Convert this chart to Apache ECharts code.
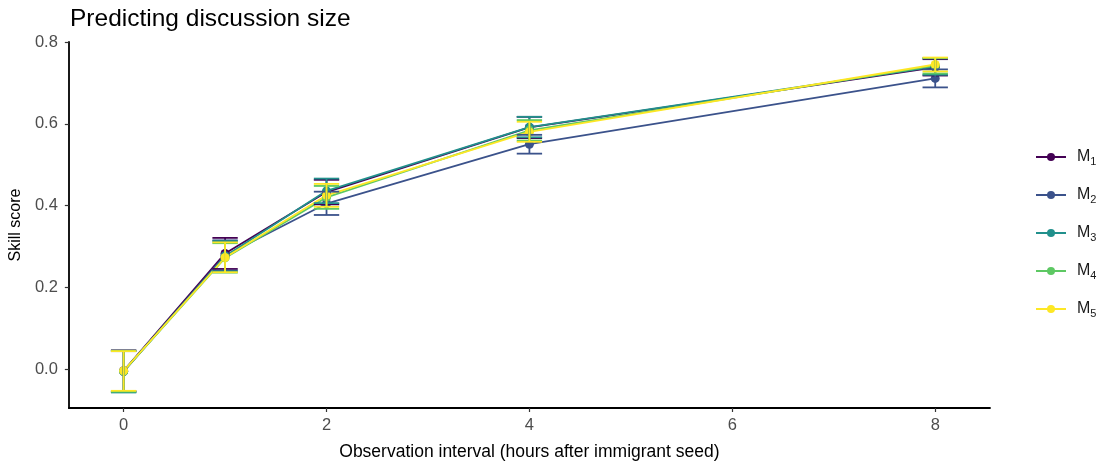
<!DOCTYPE html>
<html>
<head>
<meta charset="utf-8">
<title>Predicting discussion size</title>
<script src="https://cdn.jsdelivr.net/npm/echarts@6/dist/echarts.min.js"></script>
<style>
  html, body { margin: 0; padding: 0; background: #fff; }
  #chart { width: 1101px; height: 466px; }
</style>
</head>
<body>
<div id="chart"></div>
<script>
// observation interval (hours after immigrant seed)
const hours = [0, 1, 2, 4, 8];
const xTicks = [0, 2, 4, 6, 8];
const yTicks = [0, 0.2, 0.4, 0.6, 0.8];
const modelNames = ['M1', 'M2', 'M3', 'M4', 'M5'];

// skill score, mean and error bar ends per model
const m1Mean = [-0.004, 0.283, 0.433, 0.591, 0.738];
const m1Low = [-0.054, 0.245, 0.403, 0.565, 0.718];
const m1High = [0.046, 0.321, 0.463, 0.617, 0.758];

const m2Mean = [-0.006, 0.278, 0.405, 0.550, 0.711];
const m2Low = [-0.056, 0.241, 0.377, 0.527, 0.689];
const m2High = [0.044, 0.315, 0.434, 0.573, 0.733];

const m3Mean = [-0.005, 0.276, 0.436, 0.592, 0.740];
const m3Low = [-0.057, 0.239, 0.406, 0.567, 0.720];
const m3High = [0.045, 0.313, 0.466, 0.617, 0.760];

const m4Mean = [-0.005, 0.272, 0.420, 0.584, 0.742];
const m4Low = [-0.055, 0.236, 0.392, 0.559, 0.723];
const m4High = [0.045, 0.308, 0.448, 0.609, 0.761];

const m5Mean = [-0.004, 0.273, 0.425, 0.580, 0.745];
const m5Low = [-0.053, 0.237, 0.397, 0.556, 0.728];
const m5High = [0.044, 0.310, 0.453, 0.605, 0.762];

const means = [m1Mean, m2Mean, m3Mean, m4Mean, m5Mean];
const lows = [m1Low, m2Low, m3Low, m4Low, m5Low];
const highs = [m1High, m2High, m3High, m4High, m5High];

// viridis, 5 steps
const colors = ['#440154', '#3B528B', '#21908C', '#5DC863', '#FDE725'];

const capWidth = 0.25; // in hours

const chart = echarts.init(document.getElementById('chart'));

const axisLabel = {
  color: '#4D4D4D',
  fontFamily: 'Liberation Sans',
  fontSize: 16.5
};

// error bars: vertical segment plus two caps
const renderErrorBar = (params, api) => {
  const x = api.value(0);
  const lo = api.coord([x, api.value(1)]);
  const hi = api.coord([x, api.value(2)]);
  const half = api.size([capWidth, 0])[0] / 2;
  const style = { stroke: api.visual('color'), lineWidth: 1.8 };
  return {
    type: 'group',
    children: [
      { type: 'line', shape: { x1: lo[0], y1: lo[1], x2: hi[0], y2: hi[1] }, style },
      { type: 'line', shape: { x1: hi[0] - half, y1: hi[1], x2: hi[0] + half, y2: hi[1] }, style },
      { type: 'line', shape: { x1: lo[0] - half, y1: lo[1], x2: lo[0] + half, y2: lo[1] }, style }
    ]
  };
};

const lineSeries = modelNames.map((name, i) => ({
  name,
  type: 'line',
  data: hours.map((h, j) => [h, means[i][j]]),
  symbol: 'circle',
  symbolSize: 9,
  color: colors[i],
  lineStyle: { width: 1.8, color: colors[i] },
  itemStyle: { color: colors[i] },
  z: 2,
  silent: true
}));

const barSeries = modelNames.map((name, i) => ({
  name: name + ' err',
  type: 'custom',
  data: hours.map((h, j) => [h, lows[i][j], highs[i][j]]),
  renderItem: renderErrorBar,
  itemStyle: { color: colors[i] },
  encode: { x: 0, y: [1, 2] },
  z: 3,
  silent: true
}));

const option = {
  animation: false,
  backgroundColor: '#fff',
  title: {
    text: 'Predicting discussion size',
    left: 65,
    top: 2,
    textStyle: {
      color: '#000',
      fontFamily: 'Liberation Sans',
      fontSize: 24.5,
      fontWeight: 'normal'
    }
  },
  legend: {
    orient: 'vertical',
    left: 1030,
    top: 142,
    itemWidth: 30,
    itemHeight: 10,
    itemGap: 18,
    data: modelNames,
    formatter: (name) => 'M{s|' + name.slice(1) + '}',
    textStyle: {
      color: '#1A1A1A',
      fontFamily: 'Liberation Sans',
      fontSize: 16,
      lineHeight: 20,
      padding: [0, 0, 0, 6],
      rich: {
        s: { fontSize: 11, fontFamily: 'Liberation Sans', color: '#1A1A1A', lineHeight: 20, verticalAlign: 'bottom' }
      }
    }
  },
  grid: {
    left: 68,
    right: 111,
    top: 42,
    bottom: 57
  },
  xAxis: {
    type: 'value',
    min: -0.54,
    max: 8.54,
    name: 'Observation interval (hours after immigrant seed)',
    nameLocation: 'middle',
    nameGap: 35,
    nameTextStyle: { color: '#000', fontFamily: 'Liberation Sans', fontSize: 17.5 },
    axisLine: { onZero: false, lineStyle: { color: '#000', width: 1.8 } },
    axisTick: { show: true, length: 4, customValues: xTicks, lineStyle: { color: '#333', width: 1.2 } },
    axisLabel: { ...axisLabel, margin: 9, customValues: xTicks },
    splitLine: { show: false }
  },
  yAxis: {
    type: 'value',
    min: -0.095,
    max: 0.80,
    name: 'Skill score',
    nameLocation: 'middle',
    nameGap: 38,
    nameTextStyle: { color: '#000', fontFamily: 'Liberation Sans', fontSize: 16 },
    axisLine: { show: true, onZero: false, lineStyle: { color: '#000', width: 1.8 } },
    axisTick: { show: true, length: 4, customValues: yTicks, lineStyle: { color: '#333', width: 1.2 } },
    axisLabel: {
      ...axisLabel,
      margin: 11,
      customValues: yTicks,
      formatter: (v) => v.toFixed(1)
    },
    splitLine: { show: false }
  },
  series: [...lineSeries, ...barSeries]
};

chart.setOption(option);
</script>
</body>
</html>
